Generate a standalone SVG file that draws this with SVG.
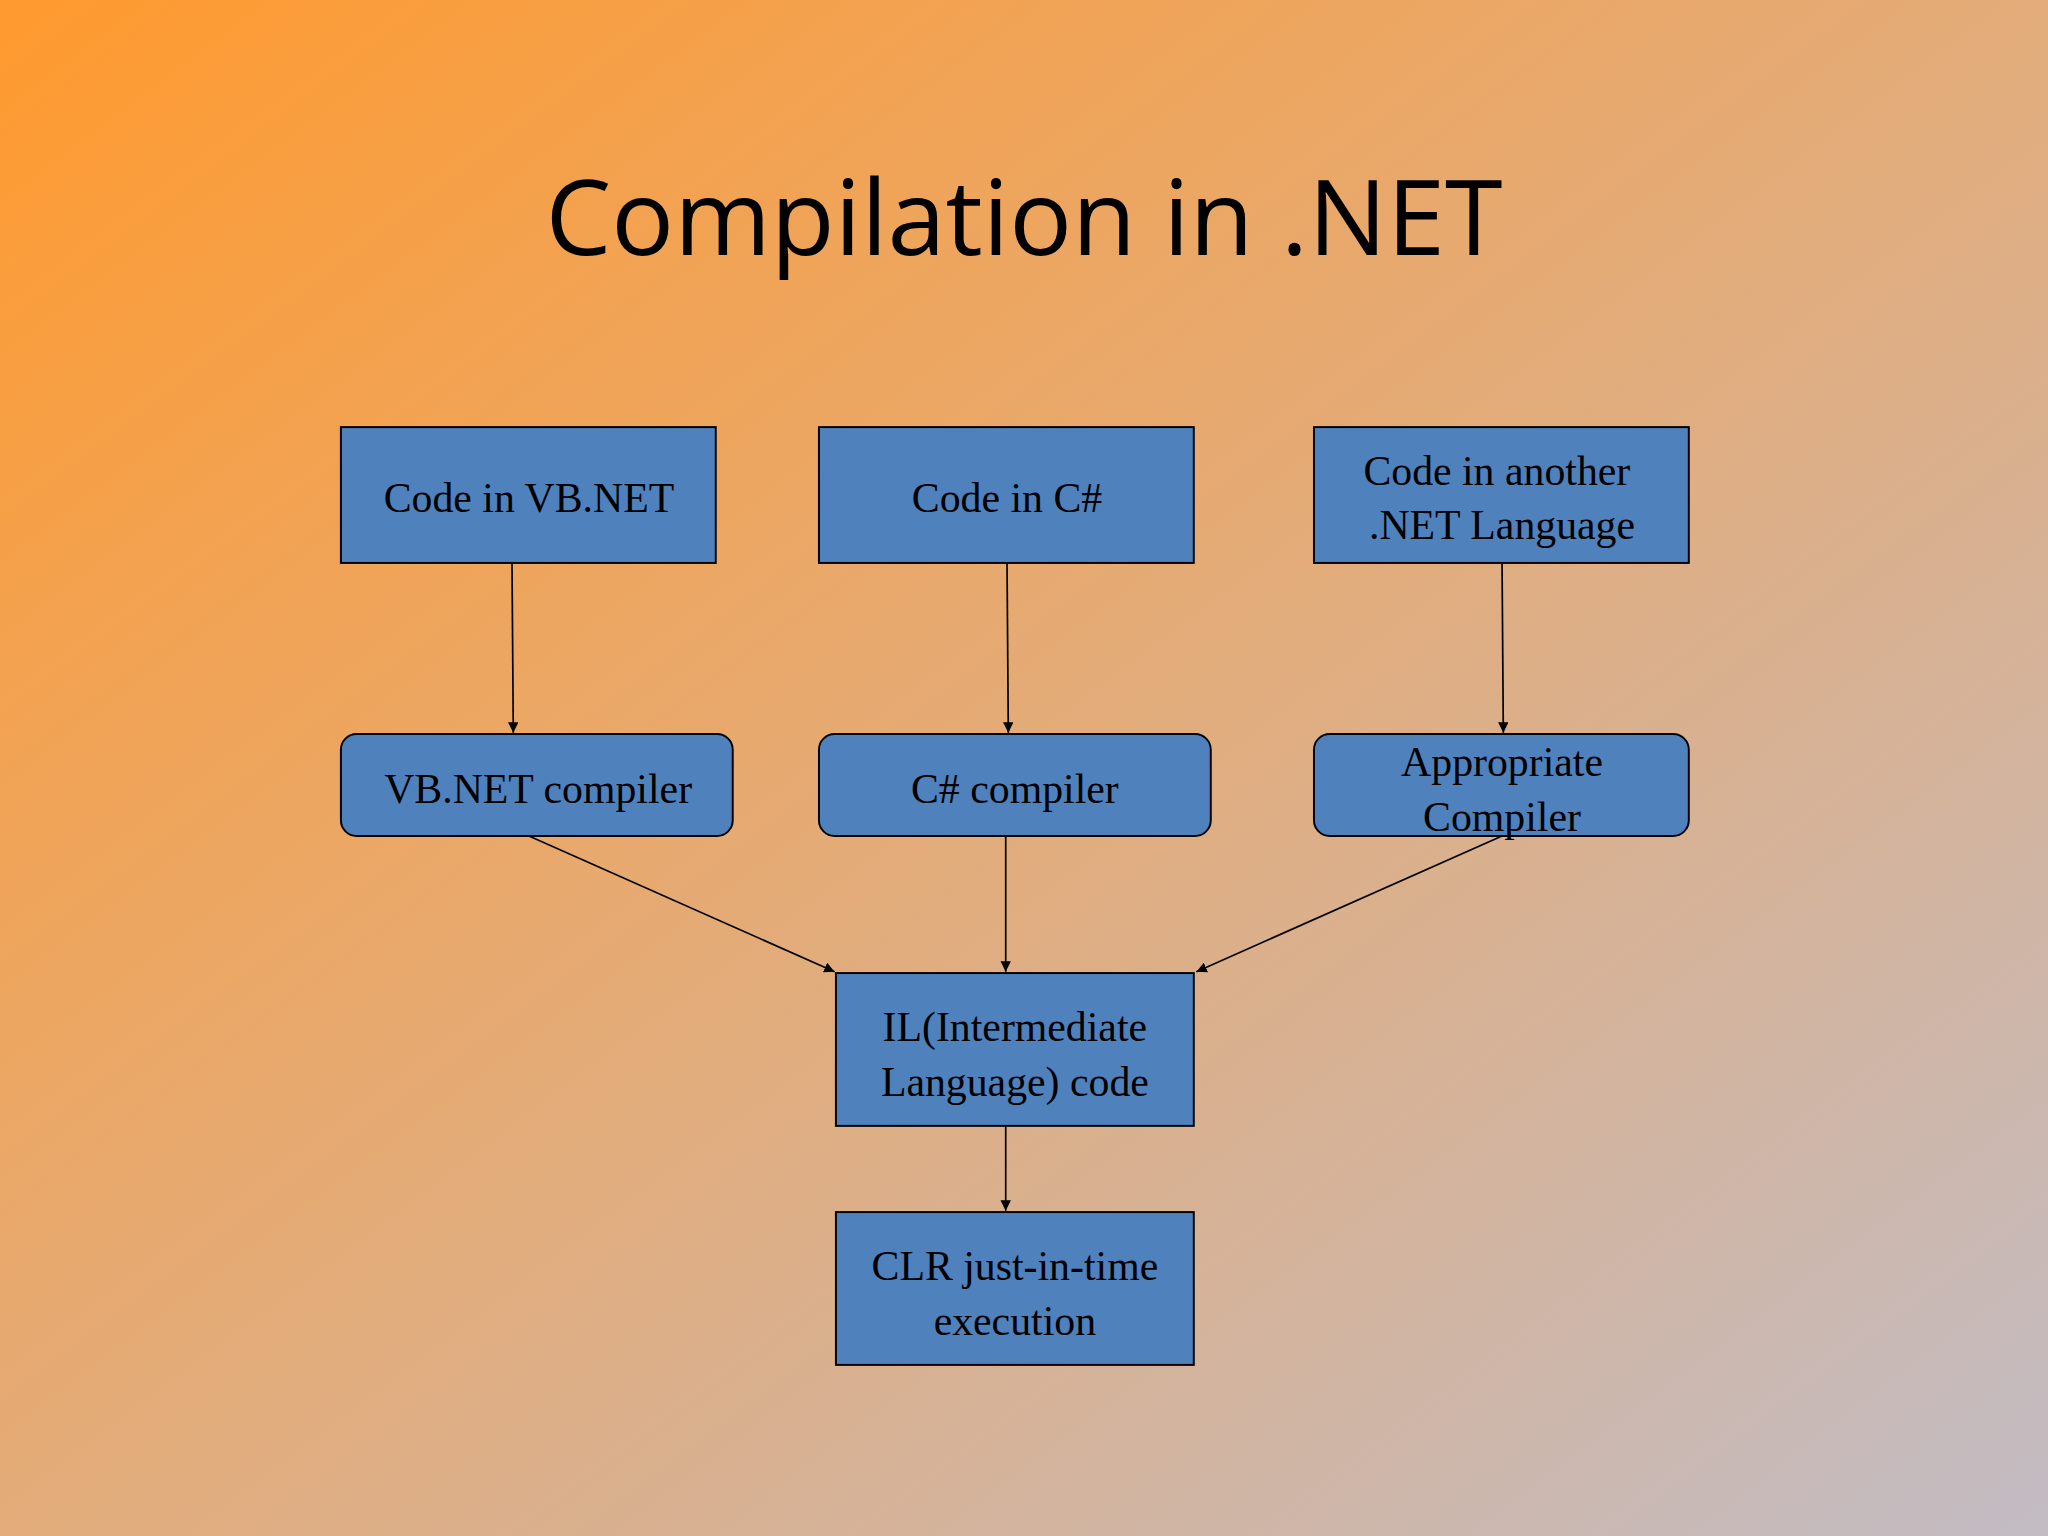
<svg xmlns="http://www.w3.org/2000/svg" width="2048" height="1536" viewBox="0 0 2048 1536">
<defs>
<linearGradient id="bg" x1="0" y1="0" x2="1" y2="1">
<stop offset="0" stop-color="#ff9a2e"/>
<stop offset="0.45" stop-color="#e6aa72"/>
<stop offset="1" stop-color="#c2bcc4"/>
</linearGradient>
<marker id="ar" viewBox="0 0 10 10" refX="10" refY="5" markerWidth="8" markerHeight="8" orient="auto" markerUnits="userSpaceOnUse">
<path d="M0,0 L10,5 L0,10 z" fill="#000"/>
</marker>
<style>
.b{fill:#4f81bd;stroke:#000;stroke-width:1.5}
.t{font-family:"Liberation Serif",serif;font-size:32px;fill:#000;text-anchor:middle}
.c{stroke:#000;stroke-width:1.3;fill:none;marker-end:url(#ar)}
</style>
</defs>
<rect width="2048" height="1536" fill="url(#bg)"/>
<g transform="scale(1.30612)">
<text x="784" y="195" font-family="Open Sans, sans-serif" font-size="80" text-anchor="middle" fill="#000">Compilation in .NET</text>
<g id="connectors">
<line class="c" x1="392" y1="431" x2="393" y2="561"/>
<line class="c" x1="771" y1="431" x2="772" y2="561"/>
<line class="c" x1="1150" y1="431" x2="1151" y2="561"/>
<line class="c" x1="405" y1="640" x2="639" y2="744"/>
<line class="c" x1="770" y1="640" x2="770" y2="744"/>
<line class="c" x1="1150" y1="640" x2="916" y2="744"/>
<line class="c" x1="770" y1="862" x2="770" y2="927"/>
</g>
<g id="vb"><rect class="b" x="261" y="327" width="287" height="104"/><text class="t" x="405" y="392">Code in VB.NET</text></g>
<g id="cs"><rect class="b" x="627" y="327" width="287" height="104"/><text class="t" x="771" y="392">Code in C#</text></g>
<g id="other"><rect class="b" x="1006" y="327" width="287" height="104"/><text class="t" x="1146" y="371">Code in another</text><text class="t" x="1150" y="413">.NET Language</text></g>
<g id="vbc"><rect class="b" x="261" y="562" width="300" height="78" rx="12"/><text class="t" x="412" y="615">VB.NET compiler</text></g>
<g id="csc"><rect class="b" x="627" y="562" width="300" height="78" rx="12"/><text class="t" x="777" y="615">C# compiler</text></g>
<g id="appc"><rect class="b" x="1006" y="562" width="287" height="78" rx="12"/><text class="t" x="1150" y="594">Appropriate</text><text class="t" x="1150" y="636">Compiler</text></g>
<g id="il"><rect class="b" x="640" y="745" width="274" height="117"/><text class="t" x="777" y="797">IL(Intermediate</text><text class="t" x="777" y="839">Language) code</text></g>
<g id="clr"><rect class="b" x="640" y="928" width="274" height="117"/><text class="t" x="777" y="980">CLR just-in-time</text><text class="t" x="777" y="1022">execution</text></g>
</g>
</svg>
